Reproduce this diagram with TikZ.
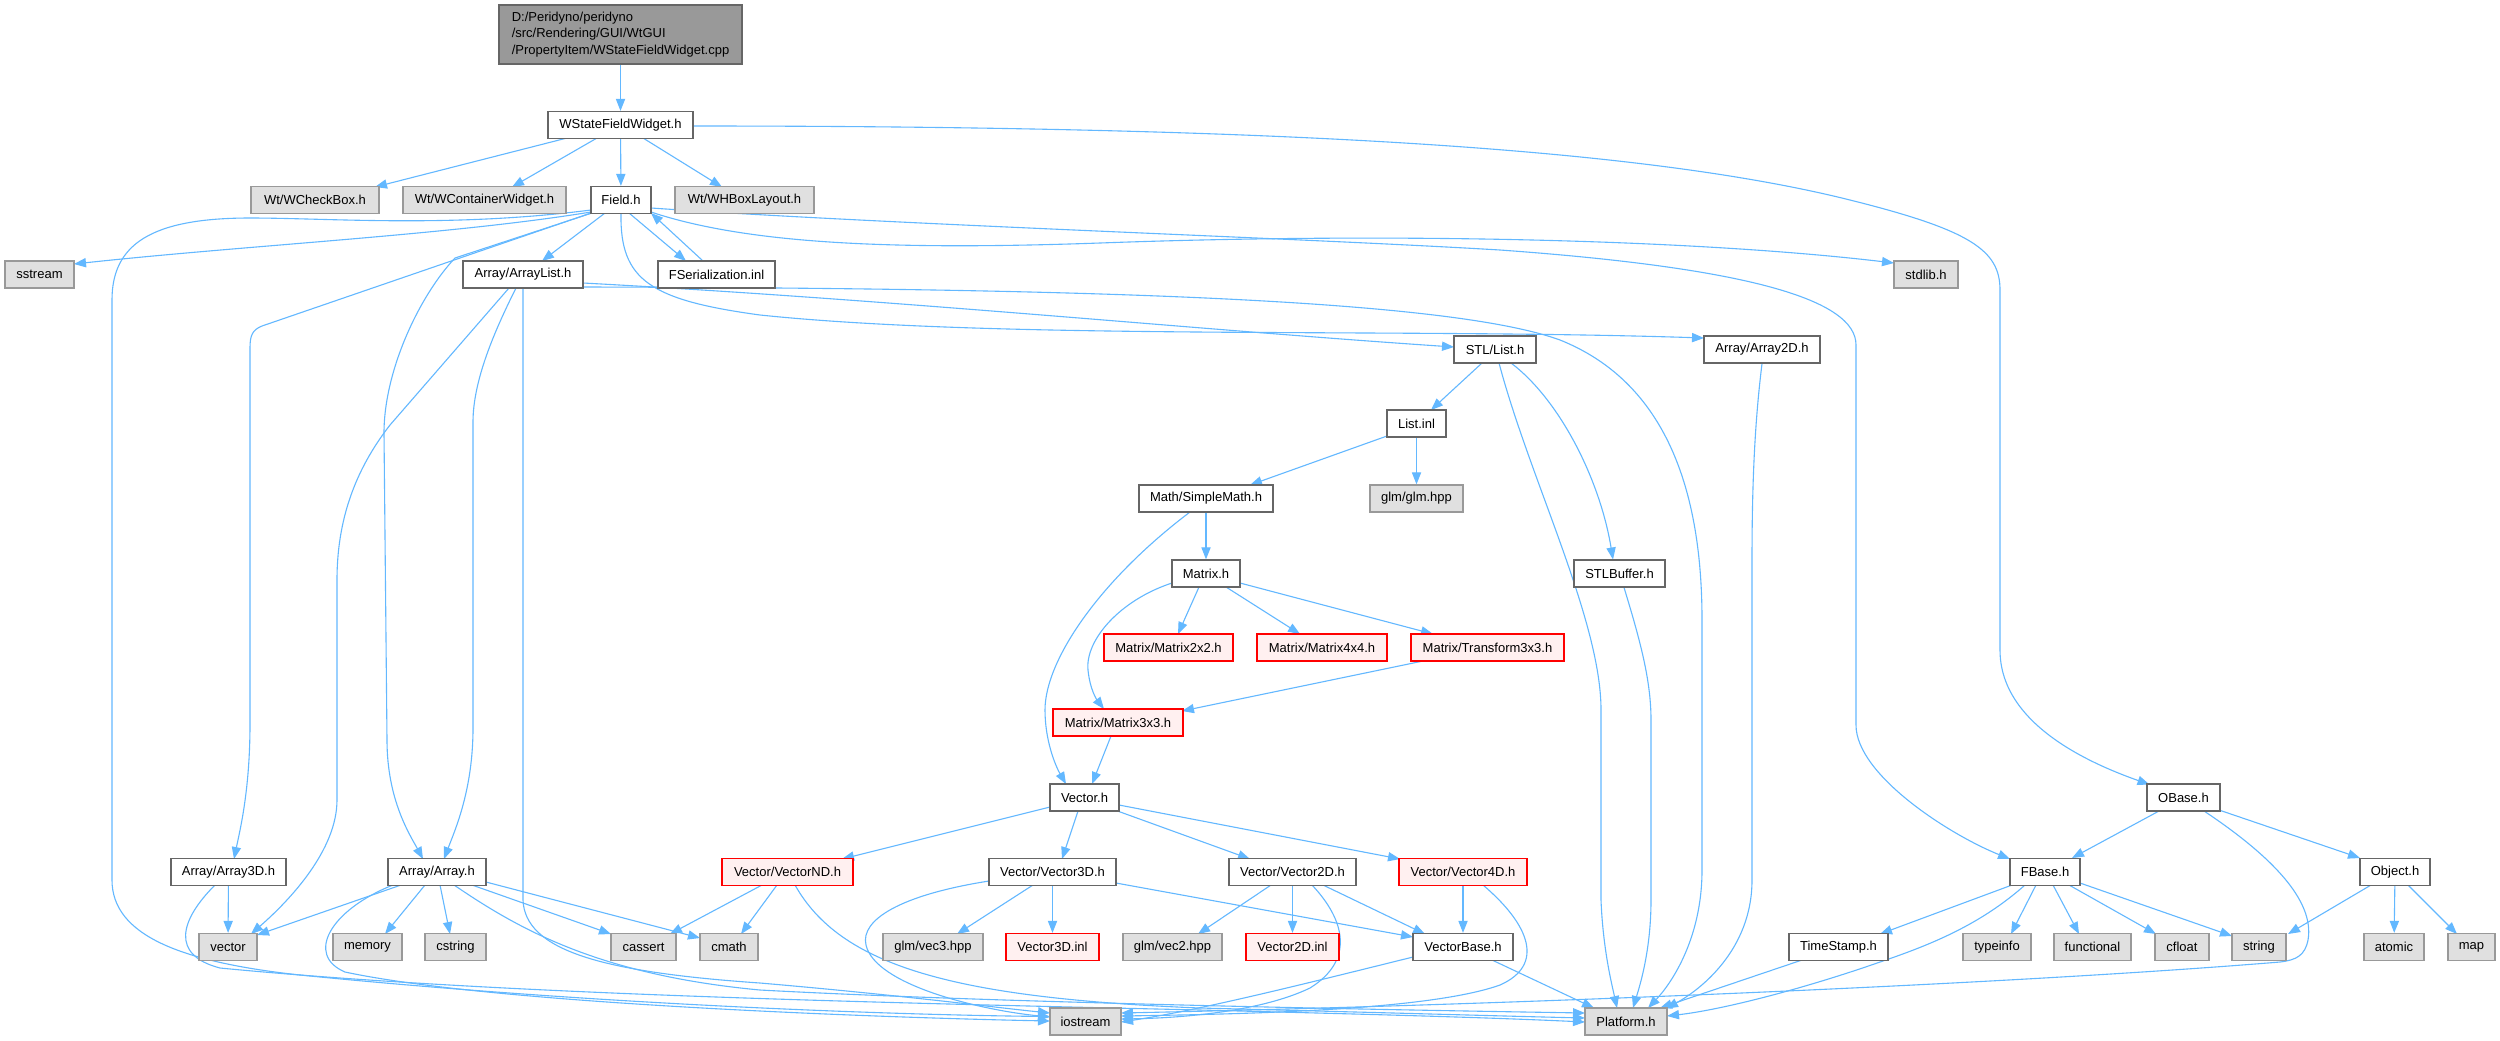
\documentclass[tikz,border=0pt]{standalone}
\usepackage{fontspec}
\setmainfont{Liberation Sans}
\usetikzlibrary{arrows.meta,calc}
\definecolor{cEdge}{HTML}{63B8FF}
\definecolor{cBW}{HTML}{666666}
\definecolor{cBG}{HTML}{999999}
\definecolor{cFG}{HTML}{E0E0E0}
\definecolor{cFR}{HTML}{FFF0F0}
\pgfdeclarelayer{back}
\pgfdeclarelayer{edges}
\pgfsetlayers{back,edges,main}
\tikzset{
  nd/.style={draw=cBW, fill=white, line width=0.65pt, inner sep=0pt, minimum height=13.5pt,
    font=\fontsize{6.5pt}{8.25pt}\selectfont, text=black},
  gn/.style={nd, draw=cBG, fill=cFG},
  rn/.style={nd, draw=red, fill=cFR},
  ed/.style={draw=cEdge, line width=0.55pt, -{Triangle[length=6pt,width=4.6pt]}},
}
\begin{document}
\begin{tikzpicture}[x=0.5pt,y=-0.5pt]
\begin{pgfonlayer}{back}
\fill[white] (0,0) rectangle (2500,1040);
\end{pgfonlayer}
\useasboundingbox (0,0) rectangle (2500,1040);
% nodes
\node[nd, fill=cBG, minimum width=121.5pt, minimum height=29.5pt, align=left] (root) at (620.5,34.5) {D:/Peridyno/peridyno\\/src/Rendering/GUI/WtGUI\\/PropertyItem/WStateFieldWidget.cpp};
\node[nd, minimum width=72.5pt] (wsfw) at (620.5,125) {WStateFieldWidget.h};
\node[gn, minimum width=64pt] (wcheck) at (315,200) {Wt/WCheckBox.h};
\node[gn, minimum width=81.5pt] (wcont) at (484.5,200) {Wt/WContainerWidget.h};
\node[nd, minimum width=30pt] (field) at (621,200) {Field.h};
\node[gn, minimum width=69.5pt] (whbox) at (744.5,200) {Wt/WHBoxLayout.h};
\node[gn, minimum width=34.5pt] (sstream) at (39.5,274.5) {sstream};
\node[nd, minimum width=60pt] (arraylist) at (523,274.5) {Array/ArrayList.h};
\node[nd, minimum width=58.5pt] (fser) at (716.5,274.5) {FSerialization.inl};
\node[gn, minimum width=32pt] (stdlib) at (1926,274.5) {stdlib.h};
\node[nd, minimum width=41pt] (stllist) at (1495,349.5) {STL/List.h};
\node[nd, minimum width=58pt] (array2d) at (1762,349.5) {Array/Array2D.h};
\node[nd, minimum width=29.5pt] (listinl) at (1416.5,423.5) {List.inl};
\node[nd, minimum width=67pt] (simplemath) at (1206,498.5) {Math/SimpleMath.h};
\node[gn, minimum width=46.5pt] (glm) at (1416.5,498.5) {glm/glm.hpp};
\node[nd, minimum width=45.5pt] (stlbuffer) at (1619.5,573.5) {STLBuffer.h};
\node[nd, minimum width=34pt] (matrix) at (1206,573.5) {Matrix.h};
\node[rn, minimum width=64.5pt] (m2x2) at (1168.5,647.5) {Matrix/Matrix2x2.h};
\node[rn, minimum width=65pt] (m4x4) at (1322,647.5) {Matrix/Matrix4x4.h};
\node[rn, minimum width=76.5pt] (t3x3) at (1487.5,647.5) {Matrix/Transform3x3.h};
\node[rn, minimum width=65pt] (m3x3) at (1118,722.5) {Matrix/Matrix3x3.h};
\node[nd, minimum width=34.5pt] (vector) at (1084.5,797.5) {Vector.h};
\node[nd, minimum width=36.5pt] (obase) at (2183.5,797.5) {OBase.h};
\node[nd, minimum width=57.5pt] (array3d) at (228.5,872) {Array/Array3D.h};
\node[nd, minimum width=49pt] (array) at (437,872) {Array/Array.h};
\node[rn, minimum width=65.5pt] (vectornd) at (787.5,872) {Vector/VectorND.h};
\node[nd, minimum width=63.5pt] (vector3d) at (1052.5,872) {Vector/Vector3D.h};
\node[nd, minimum width=63.5pt] (vector2d) at (1292.5,872) {Vector/Vector2D.h};
\node[rn, minimum width=64pt] (vector4d) at (1463,872) {Vector/Vector4D.h};
\node[nd, minimum width=35pt] (fbase) at (2045,872) {FBase.h};
\node[nd, minimum width=35pt] (object) at (2395,872) {Object.h};
\node[gn, minimum width=29pt] (vecstd) at (228,947) {vector};
\node[gn, minimum width=34.5pt] (memory) at (367.5,947) {memory};
\node[gn, minimum width=30.5pt] (cstring) at (455.5,947) {cstring};
\node[gn, minimum width=32.5pt] (cassert) at (643.5,947) {cassert};
\node[gn, minimum width=29pt] (cmath) at (729,947) {cmath};
\node[gn, minimum width=50pt] (vec3hpp) at (933,947) {glm/vec3.hpp};
\node[rn, minimum width=46.5pt] (vec3inl) at (1052.5,947) {Vector3D.inl};
\node[gn, minimum width=49.5pt] (vec2hpp) at (1172.5,947) {glm/vec2.hpp};
\node[rn, minimum width=46.5pt] (vec2inl) at (1292.5,947) {Vector2D.inl};
\node[nd, minimum width=50pt] (vectorbase) at (1463,947) {VectorBase.h};
\node[nd, minimum width=49.5pt] (timestamp) at (1838.5,947) {TimeStamp.h};
\node[gn, minimum width=34pt] (typeinfo) at (1997,947) {typeinfo};
\node[gn, minimum width=38.5pt] (functional) at (2092.5,947) {functional};
\node[gn, minimum width=27pt] (cfloat) at (2182,947) {cfloat};
\node[gn, minimum width=27pt] (string) at (2259,947) {string};
\node[gn, minimum width=30pt] (atomic) at (2394,947) {atomic};
\node[gn, minimum width=23.5pt] (map) at (2471.5,947) {map};
\node[gn, minimum width=35.5pt] (iostream) at (1085.5,1021.5) {iostream};
\node[gn, minimum width=41pt] (platform) at (1626,1021.5) {Platform.h};
% edges
\begin{pgfonlayer}{edges}
\draw[ed] (root) -- (wsfw);
\draw[ed] ($(wsfw)+(-53.5,13)$) -- ($(wcheck)+(60,-13)$);
\draw[ed] ($(wsfw)+(-23.5,13)$) -- ($(wcont)+(27.5,-13)$);
\draw[ed] (wsfw) -- (field);
\draw[ed] ($(wsfw)+(22.5,13)$) -- ($(whbox)+(-22.5,-13)$);
\draw[ed] ($(wsfw)+(72.5,1)$) .. controls (1300,126) and (1650,150) .. (1850,200)
  .. controls (1970,230) and (2000,250) .. (2000,290) -- (2000,650)
  .. controls (2000,720) and (2080,760) .. ($(obase)+(-34,-13)$);
% Field.h
\draw[ed] ($(field)+(-30,12)$) .. controls (450,235) and (250,245) .. ($(sstream)+(34.5,-10.5)$);
\draw[ed] ($(field)+(-30,10)$) .. controls (450,228) and (330,218) .. (250,218)
  .. controls (150,218) and (112,245) .. (112,300) -- (112,880)
  .. controls (112,935) and (180,962) .. (300,975)
  .. controls (600,1005) and (900,1015) .. ($(iostream)+(-35.5,-5)$);
\draw[ed] ($(field)+(-16,13)$) -- ($(arraylist)+(19,-13.5)$);
\draw[ed] ($(field)+(8,13)$) -- ($(fser)+(-30.5,-13.5)$);
\draw[ed] ($(fser)+(-13.5,-13.5)$) -- ($(field)+(30,13)$);
\draw[ed] (field.south) .. controls (620,280) and (650,300) .. (760,315)
  .. controls (1000,340) and (1400,328) .. ($(array2d)+(-58,-11.5)$);
\draw[ed] ($(field)+(30,12)$) .. controls (750,245) and (900,250) .. (1100,243)
  .. controls (1400,232) and (1700,240) .. ($(stdlib)+(-32,-11.5)$);
\draw[ed] ($(field)+(30,8)$) .. controls (900,225) and (1300,238) .. (1500,250)
  .. controls (1750,268) and (1856,300) .. (1856,345) -- (1856,725)
  .. controls (1856,775) and (1950,835) .. ($(fbase)+(-35,-13)$);
\draw[ed] ($(field)+(-30,13)$) -- (262,326) .. controls (252,330) and (250,336) .. (250,348)
  -- (250,724) .. controls (250,790) and (240,830) .. ($(array3d)+(5.5,-13)$);
\draw[ed] ($(field)+(-29,13)$) -- (455,258) .. controls (420,295) and (384,370) .. (384,433)
  -- (387,740) .. controls (387,800) and (410,835) .. ($(array)+(-14,-13)$);
% ArrayList.h
\draw[ed] ($(arraylist)+(-14,13.5)$) -- (390,425) .. controls (355,470) and (337,520) .. (337,580)
  -- (337,800) .. controls (337,850) and (290,900) .. ($(vecstd)+(23,-13)$);
\draw[ed] ($(arraylist)+(-7,13.5)$) .. controls (495,330) and (473,380) .. (473,422)
  -- (473,728) .. controls (473,790) and (455,830) .. ($(array)+(7,-13)$);
\draw[ed] (arraylist.south) -- (523,900) .. controls (525,950) and (600,972) .. (760,983)
  .. controls (900,995) and (1000,1008) .. ($(iostream)+(-35.5,-8.5)$);
\draw[ed] ($(arraylist)+(60,8.5)$) .. controls (900,300) and (1200,330) .. ($(stllist)+(-41,-2.5)$);
\draw[ed] ($(arraylist)+(60,12.5)$) .. controls (1100,288) and (1450,300) .. (1560,340)
  .. controls (1660,380) and (1702,480) .. (1702,620) -- (1702,870)
  .. controls (1702,940) and (1670,985) .. ($(platform)+(22,-13.5)$);
% Array2D, STL
\draw[ed] (array2d.south) .. controls (1755,420) and (1752,480) .. (1752,560) -- (1752,880)
  .. controls (1752,950) and (1700,990) .. ($(platform)+(40,-13)$);
\draw[ed] ($(stllist)+(-13,13.5)$) -- ($(listinl)+(14.5,-13.5)$);
\draw[ed] ($(stllist)+(16,13.5)$) .. controls (1560,400) and (1600,480) .. ($(stlbuffer)+(-6.5,-14)$);
\draw[ed] ($(stllist)+(4,13.5)$) .. controls (1530,480) and (1601,620) .. (1601,710) -- (1601,900)
  .. controls (1603,950) and (1612,985) .. ($(platform)+(-9,-13.5)$);
\draw[ed] ($(stlbuffer)+(4.5,14)$) .. controls (1640,640) and (1651,680) .. (1651,720) -- (1651,900)
  .. controls (1651,950) and (1640,985) .. ($(platform)+(7,-13.5)$);
% List.inl, math
\draw[ed] ($(listinl)+(-29.5,12.5)$) -- ($(simplemath)+(44,-13.5)$);
\draw[ed] (listinl) -- (glm);
\draw[ed] (simplemath) -- (matrix);
\draw[ed] ($(simplemath)+(-16,13.5)$) .. controls (1100,580) and (1045,660) .. (1045,710)
  .. controls (1045,740) and (1055,765) .. ($(vector)+(-18.5,-13.5)$);
\draw[ed] ($(matrix)+(-7,13.5)$) -- ($(m2x2)+(9.5,-13.5)$);
\draw[ed] ($(matrix)+(20,13.5)$) -- ($(m4x4)+(-22,-13.5)$);
\draw[ed] ($(matrix)+(34,9.5)$) -- ($(t3x3)+(-54.5,-13.5)$);
\draw[ed] ($(matrix)+(-34,9.5)$) .. controls (1120,600) and (1085,640) .. (1088,670)
  .. controls (1090,690) and (1097,700) .. ($(m3x3)+(-14,-13.5)$);
\draw[ed] ($(t3x3)+(-64.5,13.5)$) -- ($(m3x3)+(64,-11.5)$);
\draw[ed] ($(m3x3)+(-7,13.5)$) -- ($(vector)+(7.5,-13.5)$);
% Vector.h
\draw[ed] ($(vector)+(-34.5,9.5)$) -- ($(vectornd)+(54.5,-13)$);
\draw[ed] ($(vector)+(-6.5,13.5)$) -- ($(vector3d)+(9.5,-13)$);
\draw[ed] ($(vector)+(33,13.5)$) -- ($(vector2d)+(-42.5,-13)$);
\draw[ed] ($(vector)+(34.5,7.5)$) -- ($(vector4d)+(-63,-13)$);
% VectorND
\draw[ed] ($(vectornd)+(-25.5,13)$) -- ($(cassert)+(26.5,-13)$);
\draw[ed] ($(vectornd)+(-10.5,13)$) -- ($(cmath)+(12,-13)$);
\draw[ed] ($(vectornd)+(7.5,13)$) .. controls (840,965) and (950,998) .. (1200,1008)
  .. controls (1400,1013) and (1500,1016) .. ($(platform)+(-41,-3.5)$);
% Vector3D
\draw[ed] ($(vector3d)+(-63.5,9)$) .. controls (900,895) and (860,920) .. (866,945)
  .. controls (875,985) and (980,1010) .. ($(iostream)+(-35.5,-4.5)$);
\draw[ed] ($(vector3d)+(-19.5,13)$) -- ($(vec3hpp)+(24,-13)$);
\draw[ed] (vector3d) -- (vec3inl);
\draw[ed] ($(vector3d)+(63.5,11)$) -- ($(vectorbase)+(-50,-10)$);
% Vector2D
\draw[ed] ($(vector2d)+(-21.5,13)$) -- ($(vec2hpp)+(25.5,-13)$);
\draw[ed] (vector2d) -- (vec2inl);
\draw[ed] ($(vector2d)+(19.5,13)$) .. controls (1345,920) and (1355,960) .. (1310,988)
  .. controls (1260,1012) and (1180,1018) .. ($(iostream)+(35.5,-2.5)$);
\draw[ed] ($(vector2d)+(30.5,13)$) -- ($(vectorbase)+(-38,-13)$);
% Vector4D
\draw[ed] (vector4d) -- (vectorbase);
\draw[ed] ($(vector4d)+(20,13)$) .. controls (1530,925) and (1545,965) .. (1500,985)
  .. controls (1430,1010) and (1250,1014) .. ($(iostream)+(35.5,-5.5)$);
% VectorBase
\draw[ed] ($(vectorbase)+(-50,10)$) .. controls (1300,985) and (1200,1010) .. ($(iostream)+(35.5,0.5)$);
\draw[ed] ($(vectorbase)+(29,13)$) -- ($(platform)+(-32,-13.5)$);
% Array3D
\draw[ed] (array3d) -- (vecstd);
\draw[ed] ($(array3d)+(-13.5,13)$) .. controls (180,920) and (170,955) .. (220,968)
  .. controls (500,995) and (900,1003) .. (1200,1010)
  .. controls (1400,1015) and (1500,1018) .. ($(platform)+(-41,0.5)$);
% Array.h
\draw[ed] ($(array)+(-36,13)$) -- ($(vecstd)+(29,-12)$);
\draw[ed] ($(array)+(-44,13)$) .. controls (330,910) and (305,955) .. (345,972)
  .. controls (500,1005) and (900,1018) .. ($(iostream)+(-35.5,-0.5)$);
\draw[ed] ($(array)+(-12,13)$) -- ($(memory)+(17.5,-13)$);
\draw[ed] ($(array)+(3,13)$) -- ($(cstring)+(-5.5,-13)$);
\draw[ed] ($(array)+(17,13)$) .. controls (520,930) and (600,975) .. (760,990)
  .. controls (1000,1003) and (1400,1010) .. ($(platform)+(-41,-8.5)$);
\draw[ed] ($(array)+(35,13)$) -- ($(cassert)+(-32.5,-13)$);
\draw[ed] ($(array)+(49,10)$) -- ($(cmath)+(-29,-9)$);
% FBase
\draw[ed] ($(fbase)+(-33,13)$) -- ($(timestamp)+(41.5,-13)$);
\draw[ed] ($(fbase)+(-20,13)$) .. controls (1980,925) and (1930,945) .. (1880,962)
  .. controls (1800,990) and (1720,1010) .. ($(platform)+(41,-5.5)$);
\draw[ed] ($(fbase)+(-9,13)$) -- ($(typeinfo)+(14,-13)$);
\draw[ed] ($(fbase)+(8,13)$) -- ($(functional)+(-13.5,-13)$);
\draw[ed] ($(fbase)+(24,13)$) -- ($(cfloat)+(-26,-13)$);
\draw[ed] ($(fbase)+(35,11)$) -- ($(string)+(-27,-11)$);
\draw[ed] ($(timestamp)+(-36.5,13)$) -- ($(platform)+(34,-13.5)$);
% OBase, Object
\draw[ed] ($(obase)+(-24.5,13.5)$) -- ($(fbase)+(27,-14)$);
\draw[ed] ($(obase)+(35.5,12.5)$) -- ($(object)+(-35,-14)$);
\draw[ed] ($(obase)+(20.5,13.5)$) .. controls (2270,855) and (2315,900) .. (2308,940)
  .. controls (2305,955) and (2297,960) .. (2280,962)
  .. controls (2000,985) and (1500,1005) .. ($(iostream)+(35.5,-8.5)$);
\draw[ed] ($(object)+(-24,13)$) -- ($(string)+(29,-13)$);
\draw[ed] (object) -- (atomic);
\draw[ed] ($(object)+(13,13)$) -- ($(map)+(-14.5,-13)$);
\end{pgfonlayer}
\end{tikzpicture}
\end{document}
